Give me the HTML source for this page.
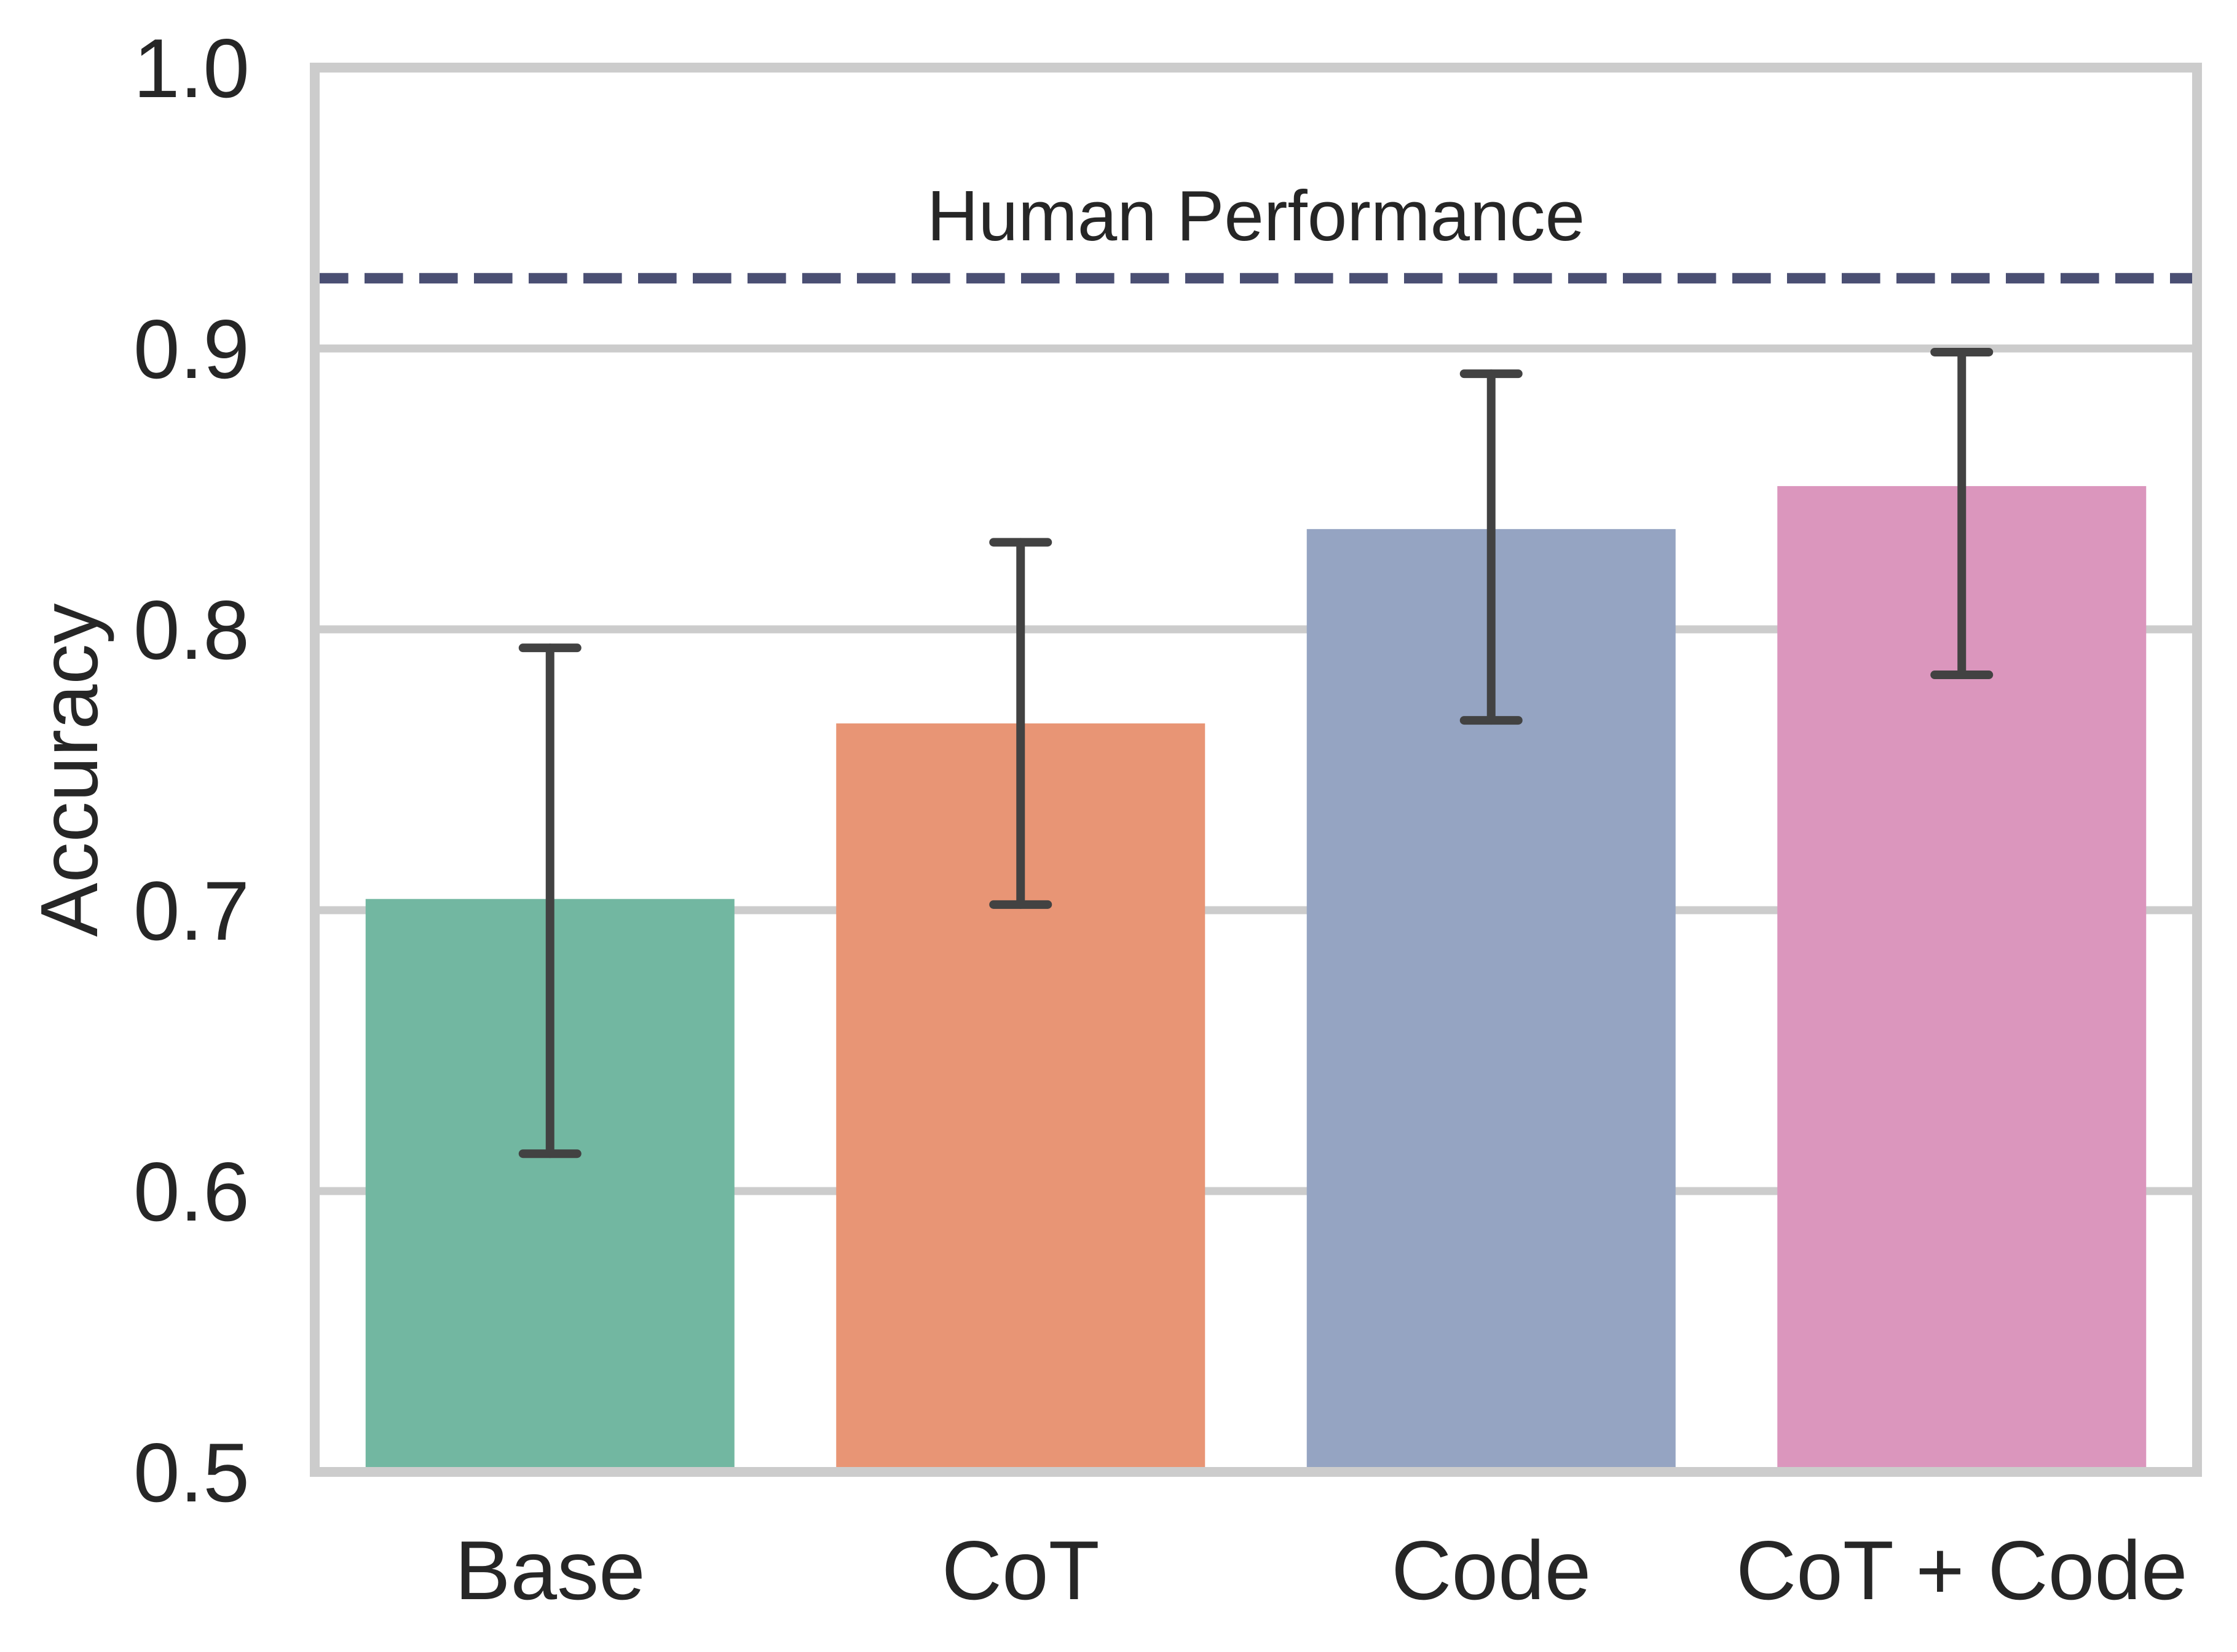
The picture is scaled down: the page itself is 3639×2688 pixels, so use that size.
<!DOCTYPE html>
<html><head><meta charset="utf-8"><style>
html,body{margin:0;padding:0;background:#fff;}
svg{display:block;font-family:"Liberation Sans",Arial,sans-serif;}
</style></head><body>
<svg id="chart" width="3639" height="2688" viewBox="0 0 3639 2688" xmlns="http://www.w3.org/2000/svg">
<rect width="3639" height="2688" fill="#fff"/>
<g id="grid"></g><g id="bars"></g><g id="errs"></g><g id="ref"></g><g id="axes"></g><g id="labels"></g>
</svg>
<script>
const categories = ["Base","CoT","Code","CoT + Code"];
const accuracy = [0.704, 0.7665, 0.8357, 0.851];
const errLow = [0.6133, 0.702, 0.7676, 0.7838];
const errHigh = [0.7934, 0.831, 0.891, 0.8987];
const humanPerformance = [0.925];
const yTicks = [0.5,0.6,0.7,0.8,0.9,1.0];
const yTickLabels = ["0.5","0.6","0.7","0.8","0.9","1.0"];
const colors = ["#72b7a1","#e89575","#95a4c2","#db96bd"];

const NS="http://www.w3.org/2000/svg";
const L=512,R=3574,T=110,B=2395,yMin=0.5,yMax=1.0;
const y=v=>B-(v-yMin)/(yMax-yMin)*(B-T);
const band=(R-L)/categories.length;
const xc=i=>L+band*(i+0.5);
const barW=600;
function mk(tag,attrs,parent,txt){const e=document.createElementNS(NS,tag);for(const k in attrs)e.setAttribute(k,attrs[k]);if(txt!==undefined)e.textContent=txt;document.getElementById(parent).appendChild(e);return e;}

yTicks.forEach((t,i)=>{
  if(t>yMin&&t<yMax){const g=mk('line',{x1:L,x2:R,y1:y(t),y2:y(t),stroke:'#cccccc','stroke-width':13},'grid');
  
  }
  const tl=mk('text',{x:406,y:y(t)+48,'text-anchor':'end','font-size':136,fill:'#262626'},'labels',yTickLabels[i]);
  
  
});
categories.forEach((c,i)=>{
  const b=mk('rect',{x:xc(i)-barW/2,y:y(accuracy[i]),width:barW,height:B-y(accuracy[i]),fill:colors[i]},'bars');
  
  
  const g=mk('g',{stroke:'#424242','stroke-width':14,'stroke-linecap':'round'},'errs');
  
  
  const add=(a)=>{const e=document.createElementNS(NS,'line');for(const k in a)e.setAttribute(k,a[k]);g.appendChild(e);};
  add({x1:xc(i),x2:xc(i),y1:y(errLow[i]),y2:y(errHigh[i])});
  add({x1:xc(i)-44,x2:xc(i)+44,y1:y(errLow[i]),y2:y(errLow[i])});
  add({x1:xc(i)-44,x2:xc(i)+44,y1:y(errHigh[i]),y2:y(errHigh[i])});
  const t=mk('text',{x:xc(i),y:2602,'text-anchor':'middle','font-size':136,fill:'#262626'},'labels',c);
  
  
});
const h=mk('line',{x1:L,x2:R,y1:y(humanPerformance[0]),y2:y(humanPerformance[0]),stroke:'#4a4f73','stroke-width':17,'stroke-dasharray':'62.6 26.4','stroke-dashoffset':'8'},'ref');


const ht=mk('text',{x:(L+R)/2,y:y(humanPerformance[0])-62,'text-anchor':'middle','font-size':116,fill:'#262626'},'labels','Human Performance');


const fr=mk('rect',{x:L,y:T,width:R-L,height:B-T,fill:'none',stroke:'#cccccc','stroke-width':16},'axes');


const yl=mk('text',{x:0,y:0,transform:'translate(158,1253) rotate(-90)','text-anchor':'middle','font-size':132,fill:'#262626'},'labels','Accuracy');


</script>
</body></html>
